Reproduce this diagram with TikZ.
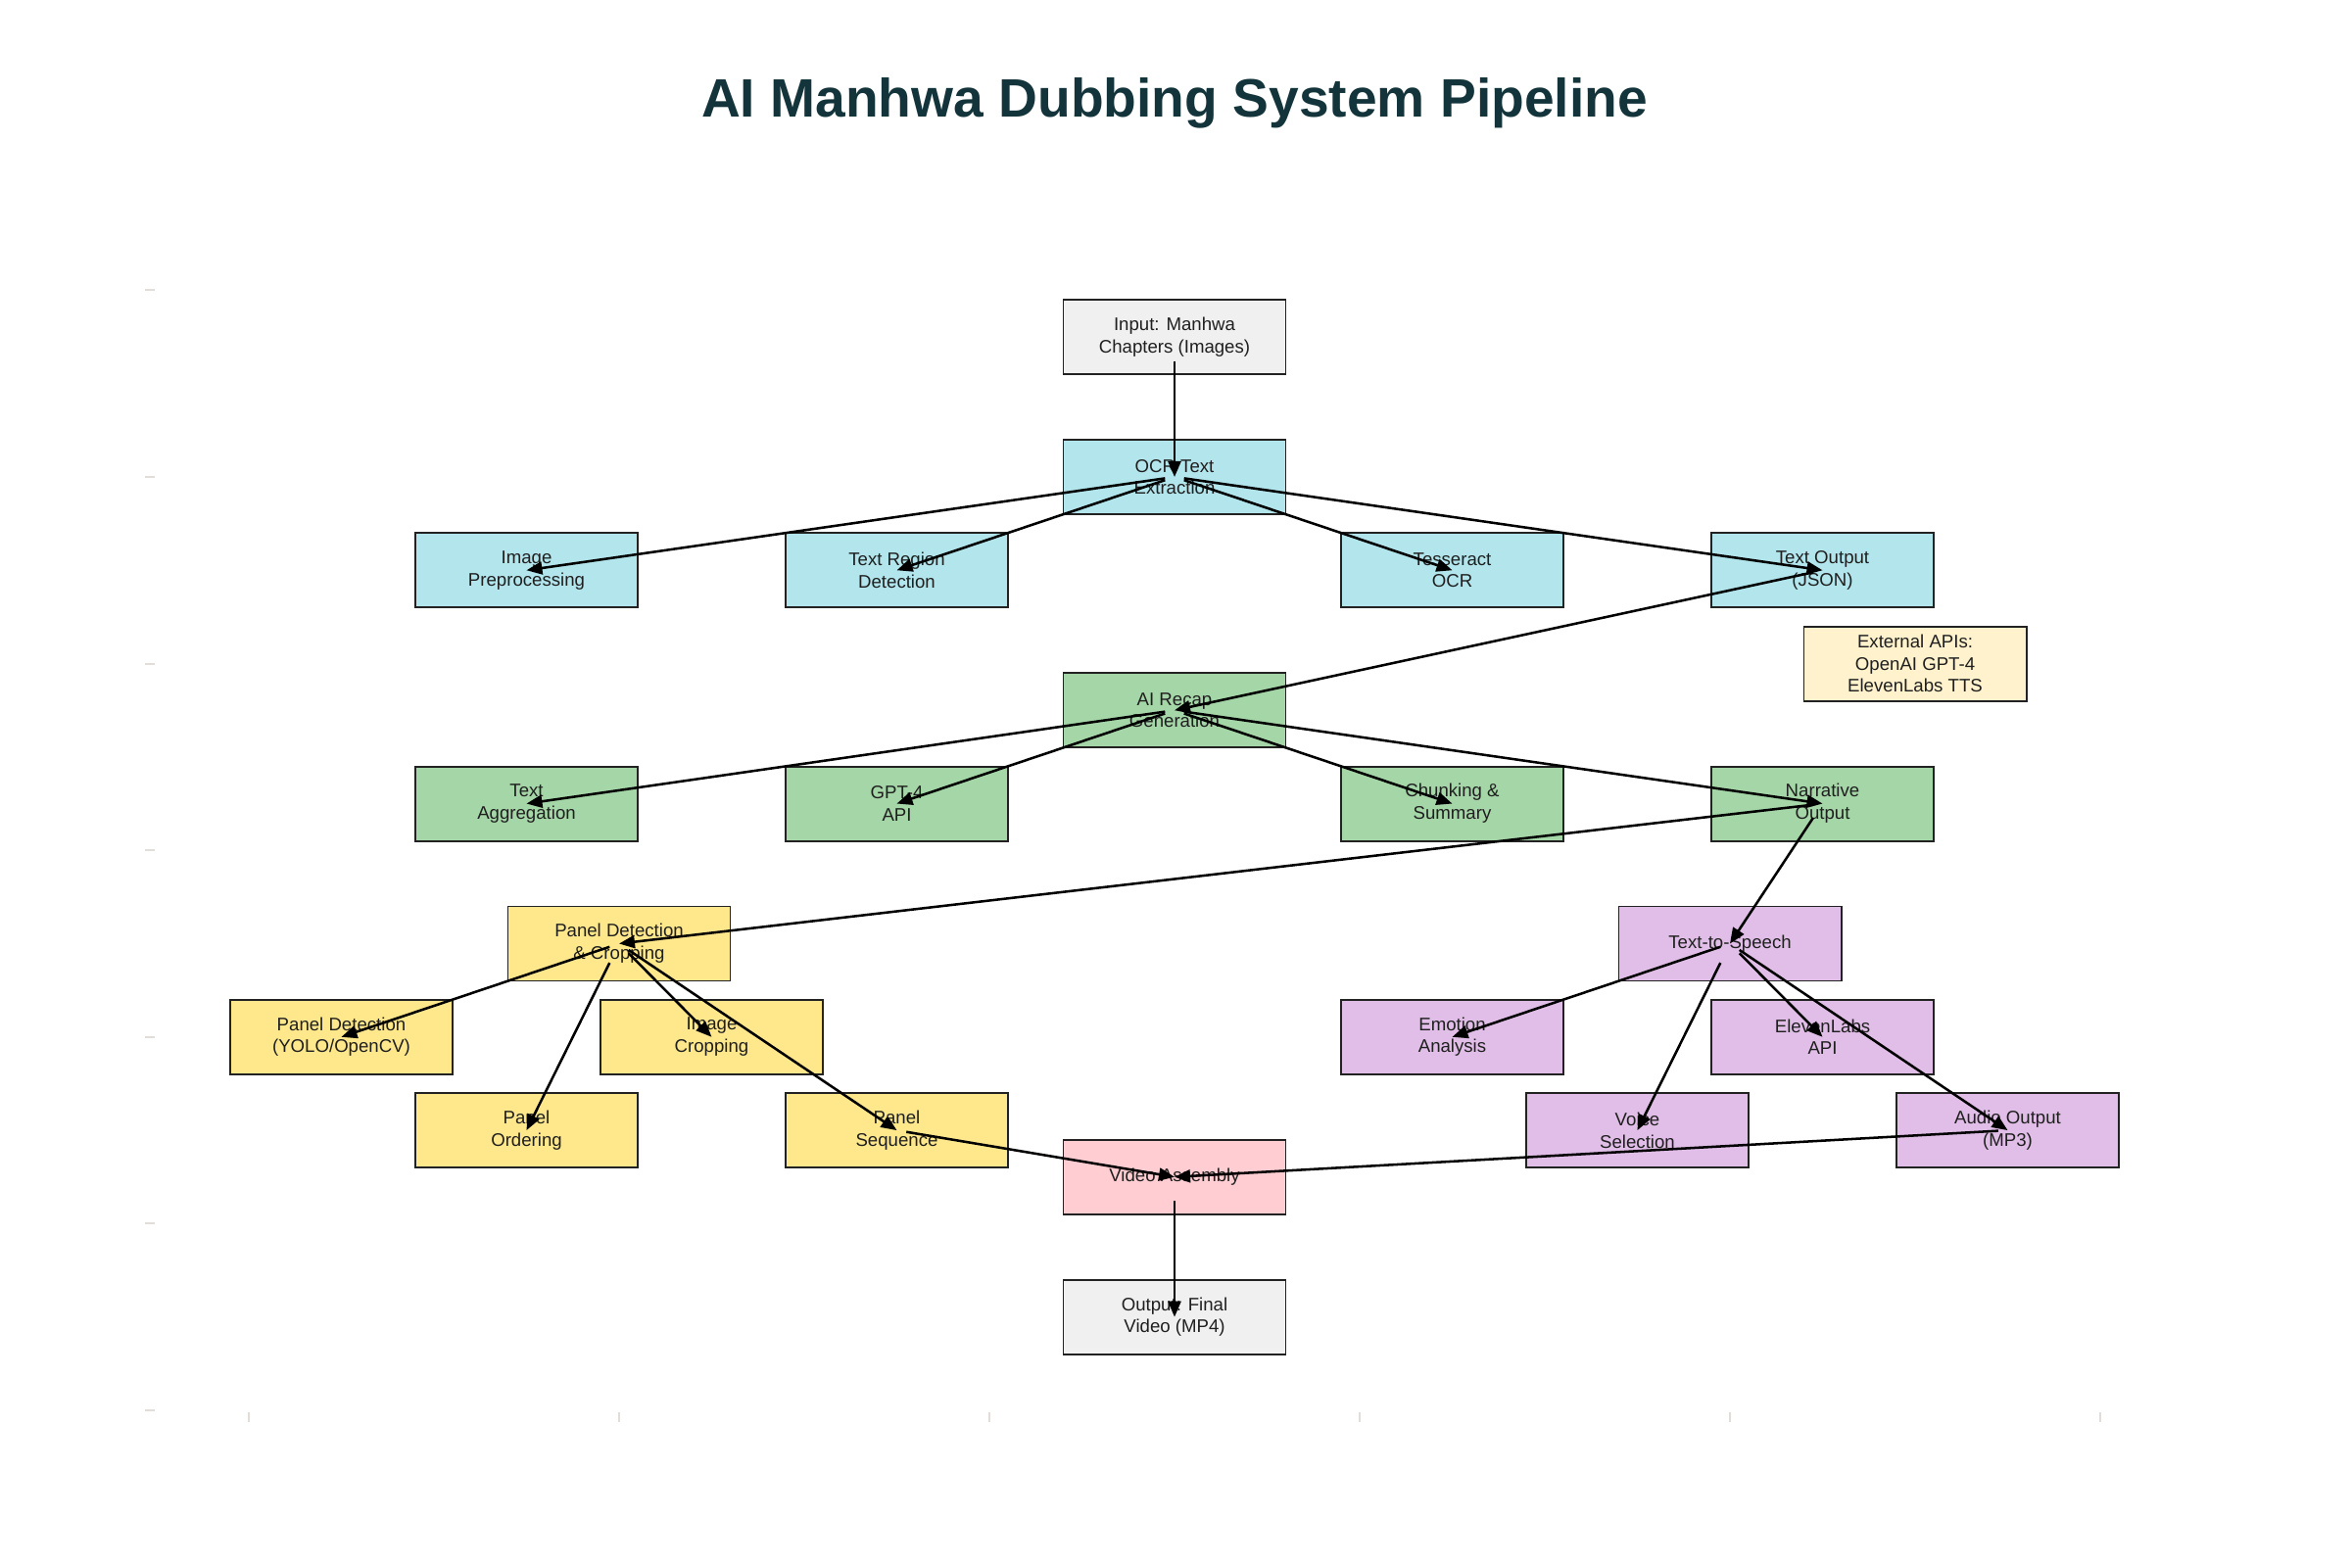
\documentclass[tikz,border=0pt]{standalone}
\usepackage{fontspec}
\setmainfont{Liberation Sans}
\usetikzlibrary{arrows.meta}
\definecolor{titlec}{HTML}{13343B}
\definecolor{ink}{HTML}{1F1F1F}
\definecolor{edge}{HTML}{222222}
\definecolor{tickc}{HTML}{E2DDD8}
\definecolor{grayc}{HTML}{F0F0F0}
\definecolor{ocrc}{HTML}{B2E5EC}
\definecolor{recapc}{HTML}{A5D6A7}
\definecolor{panelc}{HTML}{FFE88C}
\definecolor{ttsc}{HTML}{E1BEE7}
\definecolor{videoc}{HTML}{FFCDD2}
\definecolor{apic}{HTML}{FFF2CC}
\tikzset{
  box/.style={draw=edge,line width=0.55pt,fill=#1,minimum width=2.27cm,minimum height=0.76cm,
    inner sep=0pt,align=center,text=ink,font=\fontsize{5.3}{6.46}\selectfont},
  hub/.style={inner sep=0pt,minimum width=0.18cm,minimum height=0.48cm},
  arr/.style={line width=0.72pt,-{Triangle[length=0.16cm,width=0.13cm]}},
  axtick/.style={draw=tickc,line width=0.6pt}
}
\begin{document}
\begin{tikzpicture}[x=3.78cm,y=1.906cm]
  \useasboundingbox (-2.54cm,-1.6cm) rectangle (21.46cm,14.4cm);
  \foreach \k in {0,...,6} \draw[axtick] (-0.2804,\k) -- (-0.254,\k);
  \foreach \k in {0,...,5} \draw[axtick] (\k,-0.0105) -- (\k,-0.063);
  \node[font=\fontsize{15.7}{18}\selectfont\bfseries,text=titlec,anchor=base] (title) at (2.5,6.93) {AI Manhwa Dubbing System Pipeline};
  \node[box=grayc] (inp) at (2.5,5.75) {Input: Manhwa\\Chapters (Images)};
  \node[box=ocrc] (ocr) at (2.5,5) {OCR Text\\Extraction};
  \node[box=ocrc] (pre) at (0.75,4.5) {Image\\Preprocessing};
  \node[box=ocrc] (reg) at (1.75,4.5) {Text Region\\Detection};
  \node[box=ocrc] (tess) at (3.25,4.5) {Tesseract\\OCR};
  \node[box=ocrc] (txt) at (4.25,4.5) {Text Output\\(JSON)};
  \node[box=apic] (ext) at (4.5,4) {External APIs:\\OpenAI GPT-4\\ElevenLabs TTS};
  \node[box=recapc] (rec) at (2.5,3.75) {AI Recap\\Generation};
  \node[box=recapc] (agg) at (0.75,3.25) {Text\\Aggregation};
  \node[box=recapc] (gpt) at (1.75,3.25) {GPT-4\\API};
  \node[box=recapc] (chk) at (3.25,3.25) {Chunking \&\\Summary};
  \node[box=recapc] (nar) at (4.25,3.25) {Narrative\\Output};
  \node[box=panelc] (pan) at (1,2.5) {Panel Detection\\\& Cropping};
  \node[box=panelc] (yolo) at (0.25,2) {Panel Detection\\(YOLO/OpenCV)};
  \node[box=panelc] (crop) at (1.25,2) {Image\\Cropping};
  \node[box=panelc] (ord) at (0.75,1.5) {Panel\\Ordering};
  \node[box=panelc] (seq) at (1.75,1.5) {Panel\\Sequence};
  \node[box=ttsc] (tts) at (4,2.5) {Text-to-Speech};
  \node[box=ttsc] (emo) at (3.25,2) {Emotion\\Analysis};
  \node[box=ttsc] (el) at (4.25,2) {ElevenLabs\\API};
  \node[box=ttsc] (voice) at (3.75,1.5) {Voice\\Selection};
  \node[box=ttsc] (aud) at (4.75,1.5) {Audio Output\\(MP3)};
  \node[box=videoc] (vid) at (2.5,1.25) {Video Assembly};
  \node[box=grayc] (out) at (2.5,0.5) {Output: Final\\Video (MP4)};
  \foreach \n in {inp,ocr,txt,rec,nar,pan,seq,tts,aud,vid} \node[hub] (\n-h) at (\n.center) {};
  \foreach \a/\b in {inp/ocr,ocr/pre,ocr/reg,ocr/tess,ocr/txt,txt/rec,rec/agg,rec/gpt,rec/chk,rec/nar,
      nar/pan,nar/tts,pan/yolo,pan/crop,pan/ord,pan/seq,seq/vid,tts/emo,tts/voice,tts/el,tts/aud,aud/vid,vid/out}
    \draw[arr] (\a-h) -- (\b.center);
\end{tikzpicture}
\end{document}
